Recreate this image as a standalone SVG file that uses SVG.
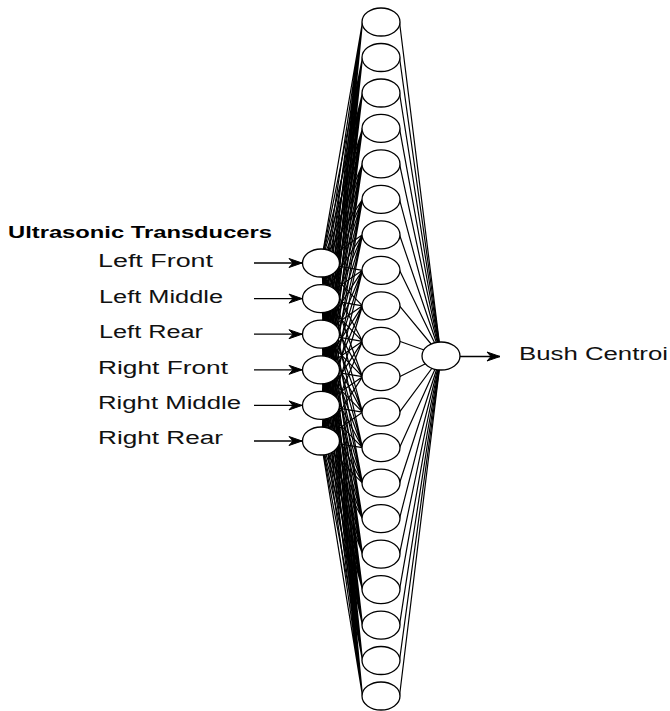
<svg xmlns="http://www.w3.org/2000/svg" width="670" height="711" viewBox="0 0 670 711">
<style>
.bg{fill:#ffffff}
.node{fill:#ffffff;stroke:#000000;stroke-width:1.3}
.link{fill:none;stroke:#000000;stroke-width:1.2}
.arrow{fill:none;stroke:#000000;stroke-width:1.3}
.lbl{font-family:"Liberation Sans",Arial,sans-serif;font-size:18px;fill:#111111}
.title{font-family:"Liberation Sans",Arial,sans-serif;font-size:16px;font-weight:bold;fill:#000000}
</style>
<defs>
<marker id="ah" viewBox="-14 -6 15 12" refX="0" refY="0" markerWidth="15" markerHeight="12" markerUnits="userSpaceOnUse" orient="auto">
<path d="M0,0 L-13,-4.5 L-9,0 L-13,4.5 Z" fill="#000000" stroke="#000000" stroke-width="1"/>
</marker>
</defs>
<rect class="bg" x="0" y="0" width="670" height="711"/>
<g id="connectors">
<path class="link" d="M362.5 22L321 263M362.5 22L321 298.6M362.5 22L321 334.2M362.5 22L321 369.8M362.5 22L321 405.4M362.5 22L321 441M399.5 22L441 356"/>
<path class="link" d="M362.5 57.5L321 263M362.5 57.5L321 298.6M362.5 57.5L321 334.2M362.5 57.5L321 369.8M362.5 57.5L321 405.4M362.5 57.5L321 441M399.5 57.5L441 356"/>
<path class="link" d="M362.5 93L321 263M362.5 93L321 298.6M362.5 93L321 334.2M362.5 93L321 369.8M362.5 93L321 405.4M362.5 93L321 441M399.5 93L441 356"/>
<path class="link" d="M362.5 128.4L321 263M362.5 128.4L321 298.6M362.5 128.4L321 334.2M362.5 128.4L321 369.8M362.5 128.4L321 405.4M362.5 128.4L321 441M399.5 128.4L441 356"/>
<path class="link" d="M362.5 163.9L321 263M362.5 163.9L321 298.6M362.5 163.9L321 334.2M362.5 163.9L321 369.8M362.5 163.9L321 405.4M362.5 163.9L321 441M399.5 163.9L441 356"/>
<path class="link" d="M362.5 199.4L321 263M362.5 199.4L321 298.6M362.5 199.4L321 334.2M362.5 199.4L321 369.8M362.5 199.4L321 405.4M362.5 199.4L321 441M399.5 199.4L441 356"/>
<path class="link" d="M362.5 234.8L321 263M362.5 234.8L321 298.6M362.5 234.8L321 334.2M362.5 234.8L321 369.8M362.5 234.8L321 405.4M362.5 234.8L321 441M399.5 234.8L441 356"/>
<path class="link" d="M362.5 270.3L321 263M362.5 270.3L321 298.6M362.5 270.3L321 334.2M362.5 270.3L321 369.8M362.5 270.3L321 405.4M362.5 270.3L321 441M399.5 270.3L441 356"/>
<path class="link" d="M362.5 305.8L321 263M362.5 305.8L321 298.6M362.5 305.8L321 334.2M362.5 305.8L321 369.8M362.5 305.8L321 405.4M362.5 305.8L321 441M399.5 305.8L441 356"/>
<path class="link" d="M362.5 341.3L321 263M362.5 341.3L321 298.6M362.5 341.3L321 334.2M362.5 341.3L321 369.8M362.5 341.3L321 405.4M362.5 341.3L321 441M399.5 341.3L441 356"/>
<path class="link" d="M362.5 376.7L321 263M362.5 376.7L321 298.6M362.5 376.7L321 334.2M362.5 376.7L321 369.8M362.5 376.7L321 405.4M362.5 376.7L321 441M399.5 376.7L441 356"/>
<path class="link" d="M362.5 412.2L321 263M362.5 412.2L321 298.6M362.5 412.2L321 334.2M362.5 412.2L321 369.8M362.5 412.2L321 405.4M362.5 412.2L321 441M399.5 412.2L441 356"/>
<path class="link" d="M362.5 447.7L321 263M362.5 447.7L321 298.6M362.5 447.7L321 334.2M362.5 447.7L321 369.8M362.5 447.7L321 405.4M362.5 447.7L321 441M399.5 447.7L441 356"/>
<path class="link" d="M362.5 483.2L321 263M362.5 483.2L321 298.6M362.5 483.2L321 334.2M362.5 483.2L321 369.8M362.5 483.2L321 405.4M362.5 483.2L321 441M399.5 483.2L441 356"/>
<path class="link" d="M362.5 518.6L321 263M362.5 518.6L321 298.6M362.5 518.6L321 334.2M362.5 518.6L321 369.8M362.5 518.6L321 405.4M362.5 518.6L321 441M399.5 518.6L441 356"/>
<path class="link" d="M362.5 554.1L321 263M362.5 554.1L321 298.6M362.5 554.1L321 334.2M362.5 554.1L321 369.8M362.5 554.1L321 405.4M362.5 554.1L321 441M399.5 554.1L441 356"/>
<path class="link" d="M362.5 589.6L321 263M362.5 589.6L321 298.6M362.5 589.6L321 334.2M362.5 589.6L321 369.8M362.5 589.6L321 405.4M362.5 589.6L321 441M399.5 589.6L441 356"/>
<path class="link" d="M362.5 625.1L321 263M362.5 625.1L321 298.6M362.5 625.1L321 334.2M362.5 625.1L321 369.8M362.5 625.1L321 405.4M362.5 625.1L321 441M399.5 625.1L441 356"/>
<path class="link" d="M362.5 660.5L321 263M362.5 660.5L321 298.6M362.5 660.5L321 334.2M362.5 660.5L321 369.8M362.5 660.5L321 405.4M362.5 660.5L321 441M399.5 660.5L441 356"/>
<path class="link" d="M362.5 696L321 263M362.5 696L321 298.6M362.5 696L321 334.2M362.5 696L321 369.8M362.5 696L321 405.4M362.5 696L321 441M399.5 696L441 356"/>
<line class="arrow" x1="254" y1="263" x2="302" y2="263" marker-end="url(#ah)"/>
<line class="arrow" x1="254" y1="298.6" x2="302" y2="298.6" marker-end="url(#ah)"/>
<line class="arrow" x1="254" y1="334.2" x2="302" y2="334.2" marker-end="url(#ah)"/>
<line class="arrow" x1="254" y1="369.8" x2="302" y2="369.8" marker-end="url(#ah)"/>
<line class="arrow" x1="254" y1="405.4" x2="302" y2="405.4" marker-end="url(#ah)"/>
<line class="arrow" x1="254" y1="441" x2="302" y2="441" marker-end="url(#ah)"/>
<line class="arrow" x1="460" y1="356.5" x2="500" y2="356.5" marker-end="url(#ah)"/>
</g>
<g id="title">
<text class="title" x="8" y="238" textLength="264" lengthAdjust="spacingAndGlyphs">Ultrasonic Transducers</text>
</g>
<g id="input-left-front"><ellipse class="node" cx="321" cy="263" rx="18.5" ry="14"/><text class="lbl" x="98" y="266.5" textLength="115" lengthAdjust="spacingAndGlyphs">Left Front</text></g>
<g id="input-left-middle"><ellipse class="node" cx="321" cy="298.6" rx="18.5" ry="14"/><text class="lbl" x="99" y="302.5" textLength="124" lengthAdjust="spacingAndGlyphs">Left Middle</text></g>
<g id="input-left-rear"><ellipse class="node" cx="321" cy="334.2" rx="18.5" ry="14"/><text class="lbl" x="99" y="338" textLength="104" lengthAdjust="spacingAndGlyphs">Left Rear</text></g>
<g id="input-right-front"><ellipse class="node" cx="321" cy="369.8" rx="18.5" ry="14"/><text class="lbl" x="98" y="373.5" textLength="130" lengthAdjust="spacingAndGlyphs">Right Front</text></g>
<g id="input-right-middle"><ellipse class="node" cx="321" cy="405.4" rx="18.5" ry="14"/><text class="lbl" x="98" y="408.5" textLength="143" lengthAdjust="spacingAndGlyphs">Right Middle</text></g>
<g id="input-right-rear"><ellipse class="node" cx="321" cy="441" rx="18.5" ry="14"/><text class="lbl" x="98" y="443.5" textLength="125" lengthAdjust="spacingAndGlyphs">Right Rear</text></g>
<g id="hidden-1"><ellipse class="node" cx="381" cy="22" rx="19" ry="14"/></g>
<g id="hidden-2"><ellipse class="node" cx="381" cy="57.5" rx="19" ry="14"/></g>
<g id="hidden-3"><ellipse class="node" cx="381" cy="93" rx="19" ry="14"/></g>
<g id="hidden-4"><ellipse class="node" cx="381" cy="128.4" rx="19" ry="14"/></g>
<g id="hidden-5"><ellipse class="node" cx="381" cy="163.9" rx="19" ry="14"/></g>
<g id="hidden-6"><ellipse class="node" cx="381" cy="199.4" rx="19" ry="14"/></g>
<g id="hidden-7"><ellipse class="node" cx="381" cy="234.8" rx="19" ry="14"/></g>
<g id="hidden-8"><ellipse class="node" cx="381" cy="270.3" rx="19" ry="14"/></g>
<g id="hidden-9"><ellipse class="node" cx="381" cy="305.8" rx="19" ry="14"/></g>
<g id="hidden-10"><ellipse class="node" cx="381" cy="341.3" rx="19" ry="14"/></g>
<g id="hidden-11"><ellipse class="node" cx="381" cy="376.7" rx="19" ry="14"/></g>
<g id="hidden-12"><ellipse class="node" cx="381" cy="412.2" rx="19" ry="14"/></g>
<g id="hidden-13"><ellipse class="node" cx="381" cy="447.7" rx="19" ry="14"/></g>
<g id="hidden-14"><ellipse class="node" cx="381" cy="483.2" rx="19" ry="14"/></g>
<g id="hidden-15"><ellipse class="node" cx="381" cy="518.6" rx="19" ry="14"/></g>
<g id="hidden-16"><ellipse class="node" cx="381" cy="554.1" rx="19" ry="14"/></g>
<g id="hidden-17"><ellipse class="node" cx="381" cy="589.6" rx="19" ry="14"/></g>
<g id="hidden-18"><ellipse class="node" cx="381" cy="625.1" rx="19" ry="14"/></g>
<g id="hidden-19"><ellipse class="node" cx="381" cy="660.5" rx="19" ry="14"/></g>
<g id="hidden-20"><ellipse class="node" cx="381" cy="696" rx="19" ry="14"/></g>
<g id="output-bush-centroid"><ellipse class="node" cx="441" cy="356" rx="19" ry="14"/><text class="lbl" x="519" y="359.5" textLength="149" lengthAdjust="spacingAndGlyphs">Bush Centroi</text></g>
</svg>
